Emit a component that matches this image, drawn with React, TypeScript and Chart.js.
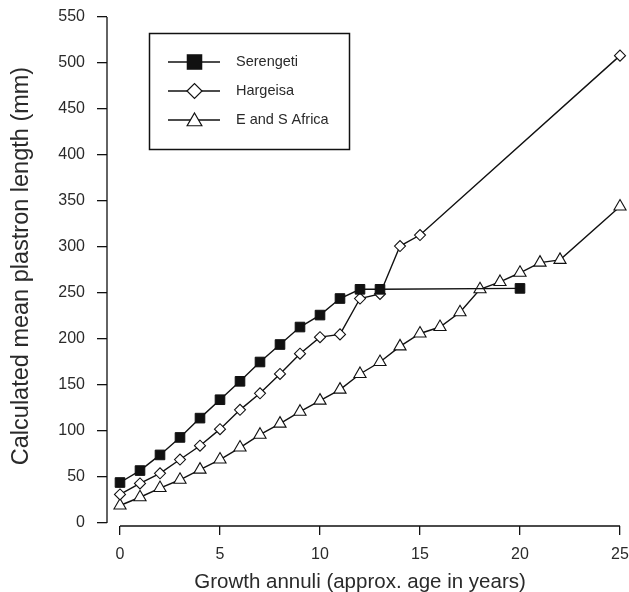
import React, { useEffect, useRef } from "react";
import { Chart, registerables } from "chart.js";

Chart.register(...registerables);

const serengetiX = [0, 1, 2, 3, 4, 5, 6, 7, 8, 9, 10, 11, 12, 13, 20];
const serengetiY = [44, 57, 74, 93, 114, 134, 154, 175, 194, 213, 226, 244, 254, 254, 255];

const hargeisaX = [0, 1, 2, 3, 4, 5, 6, 7, 8, 9, 10, 11, 12, 13, 14, 15, 25];
const hargeisaY = [31, 43, 54, 69, 84, 102, 123, 141, 162, 184, 202, 205, 244, 249, 301, 313, 508];

const esAfricaX = [0, 1, 2, 3, 4, 5, 6, 7, 8, 9, 10, 11, 12, 13, 14, 15, 16, 17, 18, 19, 20, 21, 22, 25];
const esAfricaY = [19, 28, 38, 47, 58, 69, 82, 96, 108, 121, 133, 145, 162, 175, 192, 206, 213, 229, 254, 262, 272, 283, 286, 344];

const xTicks = [0, 5, 10, 15, 20, 25];
const yTicks = [0, 50, 100, 150, 200, 250, 300, 350, 400, 450, 500, 550];

const seriesNames = ["Serengeti", "Hargeisa", "E and S Africa"];
const xTitle = "Growth annuli (approx. age in years)";
const yTitle = "Calculated mean plastron length (mm)";

const FONT = "'Liberation Sans', Arial, sans-serif";
const INK = "#111";
const TEXT = "#2a2a2a";

function pts(xs: number[], ys: number[]) {
  return xs.map((x, i) => ({ x, y: ys[i] }));
}

function drawMarker(ctx: CanvasRenderingContext2D, style: string, x: number, y: number, r: number) {
  ctx.beginPath();
  if (style === "rect") {
    const s = r * Math.SQRT1_2;
    ctx.rect(x - s, y - s, 2 * s, 2 * s);
    ctx.fillStyle = INK;
    ctx.fill();
    return;
  }
  if (style === "rectRot") {
    ctx.moveTo(x - r, y);
    ctx.lineTo(x, y - r);
    ctx.lineTo(x + r, y);
    ctx.lineTo(x, y + r);
    ctx.closePath();
  } else {
    const a = Math.PI / 2;
    ctx.moveTo(x + Math.cos(-a) * r, y + Math.sin(-a) * r);
    ctx.lineTo(x + Math.cos(-a + (2 * Math.PI) / 3) * r, y + Math.sin(-a + (2 * Math.PI) / 3) * r);
    ctx.lineTo(x + Math.cos(-a + (4 * Math.PI) / 3) * r, y + Math.sin(-a + (4 * Math.PI) / 3) * r);
    ctx.closePath();
  }
  ctx.fillStyle = "#fff";
  ctx.fill();
  ctx.strokeStyle = INK;
  ctx.lineWidth = 1.2;
  ctx.stroke();
}

const decorPlugin = {
  id: "decor",
  afterDraw(chart: any) {
    const ctx: CanvasRenderingContext2D = chart.ctx;
    const xs = chart.scales.x;
    const ys = chart.scales.y;
    const area = chart.chartArea;
    ctx.save();
    ctx.strokeStyle = INK;
    ctx.lineWidth = 1.3;
    ctx.beginPath();
    ctx.moveTo(area.left, ys.getPixelForValue(yTicks[yTicks.length - 1]));
    ctx.lineTo(area.left, ys.getPixelForValue(yTicks[0]));
    ctx.moveTo(xs.getPixelForValue(xTicks[0]), area.bottom);
    ctx.lineTo(xs.getPixelForValue(xTicks[xTicks.length - 1]), area.bottom);
    ctx.stroke();

    ctx.fillStyle = TEXT;
    ctx.font = `20.5px ${FONT}`;
    ctx.textAlign = "center";
    ctx.textBaseline = "alphabetic";
    ctx.fillText(xTitle, 360, 588);

    ctx.save();
    ctx.translate(28, 266);
    ctx.rotate(-Math.PI / 2);
    ctx.font = `23.5px ${FONT}`;
    ctx.fillText(yTitle, 0, 0);
    ctx.restore();

    const bx = 149.5, by = 33.5, bw = 200, bh = 116;
    ctx.fillStyle = "#fff";
    ctx.fillRect(bx, by, bw, bh);
    ctx.strokeStyle = INK;
    ctx.lineWidth = 1.5;
    ctx.strokeRect(bx, by, bw, bh);
    const rows = [62, 91, 120];
    const styles = ["rect", "rectRot", "triangle"];
    const radii = [11, 7.5, 8.5];
    ctx.font = `14.5px ${FONT}`;
    ctx.textAlign = "left";
    ctx.textBaseline = "middle";
    rows.forEach((ry, i) => {
      ctx.strokeStyle = INK;
      ctx.lineWidth = 1.3;
      ctx.beginPath();
      ctx.moveTo(168, ry);
      ctx.lineTo(220, ry);
      ctx.stroke();
      drawMarker(ctx, styles[i], 194.5, i === 2 ? ry + 1.5 : ry, radii[i]);
      ctx.fillStyle = TEXT;
      ctx.fillText(seriesNames[i], 236, ry);
    });
    ctx.restore();
  },
};

export default function App() {
  const ref = useRef<HTMLCanvasElement | null>(null);
  useEffect(() => {
    if (!ref.current) return;
    const chart = new Chart(ref.current, {
      type: "line",
      data: {
        datasets: [
          {
            label: seriesNames[0],
            data: pts(serengetiX, serengetiY),
            borderColor: INK,
            borderWidth: 1.4,
            pointStyle: "rect",
            pointRadius: 6.8,
            pointBackgroundColor: INK,
            pointBorderColor: INK,
            pointBorderWidth: 1,
            clip: false,
          },
          {
            label: seriesNames[1],
            data: pts(hargeisaX, hargeisaY),
            borderColor: INK,
            borderWidth: 1.4,
            pointStyle: "rectRot",
            pointRadius: 5.5,
            pointBackgroundColor: "#fff",
            pointBorderColor: INK,
            pointBorderWidth: 1.1,
            clip: false,
          },
          {
            label: seriesNames[2],
            data: pts(esAfricaX, esAfricaY),
            borderColor: INK,
            borderWidth: 1.4,
            pointStyle: "triangle",
            pointRadius: 7,
            pointBackgroundColor: "#fff",
            pointBorderColor: INK,
            pointBorderWidth: 1.1,
            clip: false,
          },
        ],
      } as any,
      options: {
        animation: false,
        responsive: false,
        layout: { padding: { left: 0, top: 17, right: 9, bottom: 0 } },
        plugins: { legend: { display: false }, tooltip: { enabled: false } },
        elements: { line: { tension: 0 } },
        scales: {
          x: {
            type: "linear",
            min: -0.65,
            max: 25,
            afterFit: (s: any) => {
              s.height = 66;
              s.paddingLeft = 0;
              s.paddingRight = 0;
              s.paddingTop = 0;
              s.paddingBottom = 0;
            },
            afterBuildTicks: (s: any) => {
              s.ticks = xTicks.map((v) => ({ value: v }));
            },
            border: { display: false },
            grid: { drawOnChartArea: false, drawTicks: true, tickLength: 9, color: INK, lineWidth: 1.3 },
            ticks: { font: { family: FONT, size: 16 }, color: TEXT, padding: 10, maxRotation: 0 },
          },
          y: {
            type: "linear",
            min: -3.26,
            max: 550,
            afterFit: (s: any) => {
              s.width = 107;
              s.paddingLeft = 0;
              s.paddingRight = 0;
              s.paddingTop = 0;
              s.paddingBottom = 0;
            },
            afterBuildTicks: (s: any) => {
              s.ticks = yTicks.map((v) => ({ value: v }));
            },
            border: { display: false },
            grid: { drawOnChartArea: false, drawTicks: true, tickLength: 10, color: INK, lineWidth: 1.3 },
            ticks: { font: { family: FONT, size: 16 }, color: TEXT, padding: 12 },
          },
        },
      } as any,
      plugins: [decorPlugin],
    });
    return () => chart.destroy();
  }, []);
  return (
    <div style={{ position: "fixed", left: 0, top: 0, width: 629, height: 592, background: "#fff" }}>
      <canvas ref={ref} width={629} height={592} style={{ display: "block" }} />
    </div>
  );
}
